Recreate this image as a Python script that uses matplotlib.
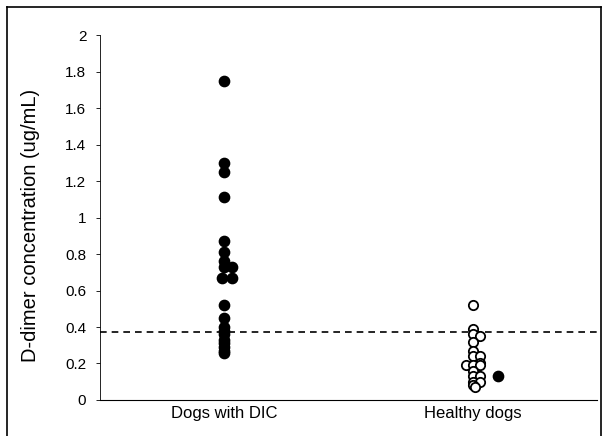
import numpy as np
import matplotlib
matplotlib.use('Agg')
import matplotlib.pyplot as plt
from matplotlib.lines import Line2D

plt.rcParams['font.family'] = ['Liberation Sans', 'DejaVu Sans']

# Categorias
categorias = ['Dogs with DIC', 'Healthy dogs']
cutoff = 0.37

# Cães com CID (pontos cheios): valor e deslocamento horizontal
dic_valores = [1.75, 1.30, 1.25, 1.11, 0.87, 0.81, 0.76, 0.73, 0.73, 0.67, 0.67,
               0.52, 0.45, 0.40, 0.38, 0.36, 0.33, 0.31, 0.29, 0.27, 0.26]
dic_desloc = [0, 0, 0, 0, 0, 0, 0, 0, 0.03, -0.01, 0.03,
              0, 0, 0, 0, 0, 0, 0, 0, 0, 0]

# Cães saudáveis (círculos abertos)
sau_valores = [0.52, 0.39, 0.36, 0.35, 0.32, 0.27, 0.24, 0.24, 0.20, 0.19, 0.19,
               0.19, 0.16, 0.13, 0.13, 0.10, 0.10, 0.08, 0.07]
sau_desloc = [0, 0, 0, 0.03, 0, 0, 0, 0.03, 0.03, -0.03, 0, 0.03, 0, 0, 0.03,
              0, 0.03, 0, 0.01]

# Um cão saudável marcado com ponto cheio
extra_valor = [0.13]
extra_desloc = [0.10]

fig = plt.figure(figsize=(6.07, 4.36), dpi=100)
ax = fig.add_axes([0.165, 0.0826, 0.819, 0.837])

x1 = 1 + np.array(dic_desloc)
ax.scatter(x1, dic_valores, s=55, color='black', zorder=3)

x2 = 2 + np.array(sau_desloc)
ax.scatter(x2, sau_valores, s=45, facecolor='white', edgecolor='black',
           linewidth=1.3, zorder=3)
ax.scatter(2 + np.array(extra_desloc), extra_valor, s=55, color='black', zorder=3)

ax.axhline(cutoff, color='black', linestyle=(0, (4, 3)), linewidth=1.2, zorder=2)

ax.set_xlim(0.5, 2.5)
ax.set_ylim(0, 2)
ax.set_xticks([1, 2])
ax.set_xticklabels(categorias, fontsize=12)
ax.set_yticks(np.arange(0, 2.01, 0.2))
ax.set_yticklabels(['0', '0.2', '0.4', '0.6', '0.8', '1', '1.2', '1.4', '1.6', '1.8', '2'],
                   fontsize=11)
ax.tick_params(axis='x', length=0, pad=4)
ax.tick_params(axis='y', length=3, width=0.6, pad=7)
ax.set_ylabel('D-dimer concentration (ug/mL)', fontsize=14.5)
ax.yaxis.set_label_coords(-0.122, 0.478)

ax.spines['top'].set_visible(False)
ax.spines['right'].set_visible(False)
ax.spines['left'].set_linewidth(0.6)
ax.spines['bottom'].set_linewidth(0.8)

# Moldura externa da figura
for xs, ys in [([0.011, 0.011], [0, 0.984]), ([0.011, 0.99], [0.984, 0.984]),
               ([0.99, 0.99], [0, 0.984])]:
    fig.add_artist(Line2D(xs, ys, color='black', linewidth=1.2))

plt.savefig('out.png', dpi=100)
